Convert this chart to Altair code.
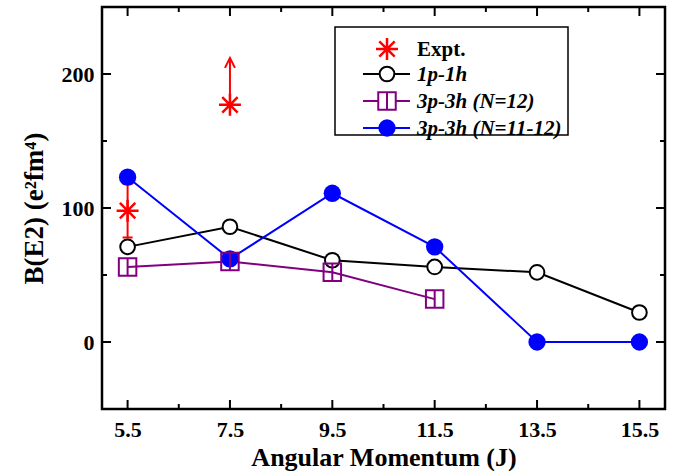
import altair as alt
import pandas as pd

# ---------------- data ----------------
J = [5.5, 7.5, 9.5, 11.5, 13.5, 15.5]
b_1p1h = [71, 86, 61, 56, 52, 22]
J_3p3h_12 = [5.5, 7.5, 9.5, 11.5]
b_3p3h_12 = [56, 60, 52, 32]
b_3p3h_1112 = [123, 62, 111, 71, 0, 0]
J_expt = [5.5, 7.5]
b_expt = [98, 177]
err_J = [5.5]
err_low = [78]
err_high = [118]
limit_J = [7.5]
limit_from = [177]
limit_to = [212]

x_major = [5.5, 7.5, 9.5, 11.5, 13.5, 15.5]
x_minor = [6.5, 8.5, 10.5, 12.5, 14.5]
y_major = [0, 100, 200]
y_minor = [50, 150]

legend_labels = ["Expt.", "1p-1h", "3p-3h (N=12)", "3p-3h (N=11-12)"]

# ---------------- styling ----------------
W, H = 563, 402
FONT = "Liberation Serif"
RED = "#FF0000"
BLUE = "#0000FF"
PURPLE = "#800080"
STAR = "M-1,0H1M0,-1V1M-0.7,-0.7L0.7,0.7M-0.7,0.7L0.7,-0.7"
SQUARE = "M-1,-1H1V1H-1ZM0,-1V1"
ARROW = "M-1,2L0,0L1,2"
CAP = "M-1,0H1"

xs = alt.Scale(domain=[5, 16], nice=False, zero=False)
ys = alt.Scale(domain=[-50, 250], nice=False, zero=False)

df_1p = pd.DataFrame({"J": J, "b": b_1p1h})
df_12 = pd.DataFrame({"J": J_3p3h_12, "b": b_3p3h_12})
df_1112 = pd.DataFrame({"J": J, "b": b_3p3h_1112})
df_expt = pd.DataFrame({"J": J_expt, "b": b_expt})
df_err = pd.DataFrame({"J": err_J, "lo": err_low, "hi": err_high})
df_lim = pd.DataFrame({"J": limit_J, "lo": limit_from, "hi": limit_to})
one = pd.DataFrame({"a": [0]})


def X(axis=alt.Undefined):
    return alt.X("J:Q", scale=xs, axis=axis)


def Y(field="b", axis=alt.Undefined):
    return alt.Y(f"{field}:Q", scale=ys, axis=axis)


x_lab = alt.Axis(values=x_major, format=".1f", ticks=False, domain=False, grid=False,
                 labelFont=FONT, labelFontSize=22, labelFontWeight="bold",
                 labelColor="black", labelPadding=10, labelFlush=False,
                 labelOverlap=False, title="Angular Momentum (J)", titleFont=FONT,
                 titleFontSize=26, titleFontWeight="bold", titleColor="black",
                 titleBaseline="alphabetic", titleY=56, orient="bottom")
y_lab = alt.Axis(values=y_major, format="d", ticks=False, domain=False, grid=False,
                 labelFont=FONT, labelFontSize=22, labelFontWeight="bold",
                 labelColor="black", labelPadding=8, labelOverlap=False,
                 title="B(E2) (e²fm⁴)", titleFont=FONT, titleFontSize=27,
                 titleFontWeight="bold", titleColor="black", titleAngle=270,
                 titleBaseline="alphabetic", titleAlign="center", titleX=-60,
                 titleY=H / 2, orient="left")

ax0 = alt.Chart(df_1p).mark_point(opacity=0).encode(x=X(x_lab), y=Y(axis=y_lab))

# inward ticks on all four sides
dfx_maj = pd.DataFrame({"J": x_major})
dfx_min = pd.DataFrame({"J": x_minor})
dfy_maj = pd.DataFrame({"b": y_major})
dfy_min = pd.DataFrame({"b": y_minor})
ticks = []
for dfx, ln in [(dfx_maj, 9), (dfx_min, 5)]:
    ticks.append(alt.Chart(dfx).mark_rule(color="black", strokeWidth=2).encode(
        x=X(), y=alt.value(H), y2=alt.value(H - ln)))
    ticks.append(alt.Chart(dfx).mark_rule(color="black", strokeWidth=2).encode(
        x=X(), y=alt.value(0), y2=alt.value(ln)))
for dfy, ln in [(dfy_maj, 9), (dfy_min, 5)]:
    ticks.append(alt.Chart(dfy).mark_rule(color="black", strokeWidth=2).encode(
        y=Y(), x=alt.value(0), x2=alt.value(ln)))
    ticks.append(alt.Chart(dfy).mark_rule(color="black", strokeWidth=2).encode(
        y=Y(), x=alt.value(W), x2=alt.value(W - ln)))

# data layers
line_1p = alt.Chart(df_1p).mark_line(color="black", strokeWidth=2).encode(x=X(), y=Y())
line_12 = alt.Chart(df_12).mark_line(color=PURPLE, strokeWidth=2).encode(x=X(), y=Y())
line_1112 = alt.Chart(df_1112).mark_line(color=BLUE, strokeWidth=2).encode(x=X(), y=Y())

err_bar = alt.Chart(df_err).mark_rule(color=RED, strokeWidth=2).encode(
    x=X(), y=Y("lo"), y2="hi:Q")
err_cap_lo = alt.Chart(df_err).mark_point(shape=CAP, filled=False, stroke=RED,
                                          strokeWidth=2, size=100, opacity=1).encode(
    x=X(), y=Y("lo"))
err_cap_hi = alt.Chart(df_err).mark_point(shape=CAP, filled=False, stroke=RED,
                                          strokeWidth=2, size=100, opacity=1).encode(
    x=X(), y=Y("hi"))
lim_rule = alt.Chart(df_lim).mark_rule(color=RED, strokeWidth=2).encode(
    x=X(), y=Y("lo"), y2="hi:Q")
lim_head = alt.Chart(df_lim).mark_point(shape=ARROW, filled=False, stroke=RED,
                                        strokeWidth=2, size=100, opacity=1).encode(
    x=X(), y=Y("hi"))

pts_1p = alt.Chart(df_1p).mark_point(shape="circle", filled=True, fill="white",
                                     stroke="black", strokeWidth=2, size=216,
                                     opacity=1).encode(x=X(), y=Y())
pts_1112 = alt.Chart(df_1112).mark_point(shape="circle", filled=True, fill=BLUE,
                                         size=300, opacity=1).encode(x=X(), y=Y())
pts_12 = alt.Chart(df_12).mark_point(shape=SQUARE, filled=False, stroke=PURPLE,
                                     strokeWidth=2, size=306, opacity=1).encode(x=X(), y=Y())
pts_expt = alt.Chart(df_expt).mark_point(shape=STAR, filled=False, stroke=RED,
                                         strokeWidth=2.5, size=484, opacity=1).encode(
    x=X(), y=Y())

# ---------------- manual legend ----------------
leg = alt.Chart(one)
leg_box = leg.mark_rect(fill="white", stroke="black", strokeWidth=1.5).encode(
    x=alt.value(233), x2=alt.value(466), y=alt.value(20), y2=alt.value(128))
leg_rows = [42, 67, 94, 121]
leg_items = [leg_box]
leg_items.append(leg.mark_point(shape=STAR, filled=False, stroke=RED, strokeWidth=2.5,
                                size=484, opacity=1).encode(x=alt.value(285), y=alt.value(leg_rows[0])))
for yy, col in zip(leg_rows[1:], ["black", PURPLE, BLUE]):
    leg_items.append(leg.mark_rule(color=col, strokeWidth=2).encode(
        x=alt.value(261), x2=alt.value(308), y=alt.value(yy)))
leg_items.append(leg.mark_point(shape="circle", filled=True, fill="white", stroke="black",
                                strokeWidth=2, size=216, opacity=1).encode(
    x=alt.value(285), y=alt.value(leg_rows[1])))
leg_items.append(leg.mark_point(shape=SQUARE, filled=True, fill="white", stroke=PURPLE,
                                strokeWidth=2, size=306, opacity=1).encode(
    x=alt.value(285), y=alt.value(leg_rows[2])))
leg_items.append(leg.mark_point(shape="circle", filled=True, fill=BLUE, size=300,
                                opacity=1).encode(x=alt.value(285), y=alt.value(leg_rows[3])))
for i, (lab, yy) in enumerate(zip(legend_labels, leg_rows)):
    leg_items.append(leg.mark_text(align="left", baseline="middle", font=FONT, fontSize=21,
                                   fontWeight="bold",
                                   fontStyle="normal" if i == 0 else "italic",
                                   color="black").encode(
        x=alt.value(315), y=alt.value(yy + 1), text=alt.value(lab)))

chart = alt.layer(
    ax0, *ticks,
    line_1p, line_12, line_1112,
    err_bar, err_cap_lo, err_cap_hi, lim_rule, lim_head,
    pts_1p, pts_1112, pts_12, pts_expt,
    *leg_items,
).properties(
    width=W, height=H,
    autosize=alt.AutoSizeParams(type="none"),
    padding={"left": 102, "top": 7, "right": 20, "bottom": 62},
    background="white",
).configure_view(stroke="black", strokeWidth=2.5)

chart.save("out.html", embed_options={"renderer": "svg", "actions": False})
